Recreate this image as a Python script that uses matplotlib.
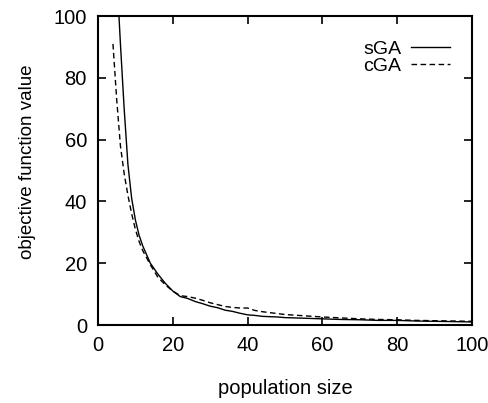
import matplotlib
matplotlib.use("Agg")
import matplotlib.pyplot as plt

plt.rcParams['font.family'] = ['Liberation Sans', 'DejaVu Sans']

sga_x = [5, 6, 7, 8, 9, 10, 11, 12, 14, 16, 18, 20, 22, 24, 26, 28, 30, 32, 34, 36, 38, 40,
         42, 44, 46, 48, 50, 55, 60, 65, 70, 75, 80, 85, 90, 95, 100]
sga_y = [114, 91, 70, 52, 41, 34, 29, 25.5, 20, 16.5, 13.5, 11, 9.2, 8.6, 7.6, 6.9, 6.1, 5.6, 4.8, 4.4, 3.8, 3.3,
         3.1, 2.8, 2.7, 2.6, 2.4, 2.2, 2.0, 1.8, 1.7, 1.5, 1.5, 1.3, 1.2, 1.1, 1.0]
cga_x = [4, 5, 6, 7, 8, 9, 10, 11, 12, 14, 16, 18, 20, 22, 24, 26, 28, 30, 32, 34, 36, 38, 40,
         42, 44, 46, 48, 50, 55, 60, 65, 70, 75, 80, 85, 90, 95, 100]
cga_y = [91, 73, 58, 49, 42, 36, 31, 27, 24, 19.5, 15.5, 13, 11, 9.5, 9.2, 8.7, 8.0, 7.2, 6.6, 6.0, 5.7, 5.5, 5.5,
         4.7, 4.3, 4.0, 3.7, 3.4, 3.0, 2.6, 2.3, 2.0, 1.8, 1.7, 1.5, 1.4, 1.3, 1.2]

fig = plt.figure(figsize=(4.89, 4.03), dpi=100)
ax = fig.add_axes([0.2004, 0.1935, 0.7648, 0.7665])
ax.plot(sga_x, sga_y, color='black', lw=1.0, ls='-', label='sGA')
ax.plot(cga_x, cga_y, color='black', lw=1.0, ls=(0, (4, 2.5)), label='cGA')
ax.set_xlim(0, 100)
ax.set_ylim(0, 100)
ax.set_xticks([0, 20, 40, 60, 80, 100])
ax.set_yticks([0, 20, 40, 60, 80, 100])
ax.tick_params(direction='in', top=True, right=True, length=6, width=1.2, labelsize=14.5, pad=8)
for s in ax.spines.values():
    s.set_linewidth(1.5)
ax.set_xlabel('population size', fontsize=14.5, labelpad=17)
ax.set_ylabel('objective function value', fontsize=13.5)
ax.yaxis.set_label_coords(-0.165, 0.527)
ax.legend(loc='upper right', frameon=False, markerfirst=False, fontsize=14,
          handlelength=2.0, handletextpad=0.5, labelspacing=0.0,
          bbox_to_anchor=(0.978, 0.967), borderaxespad=0.3)
fig.savefig('out.png', dpi=100)
